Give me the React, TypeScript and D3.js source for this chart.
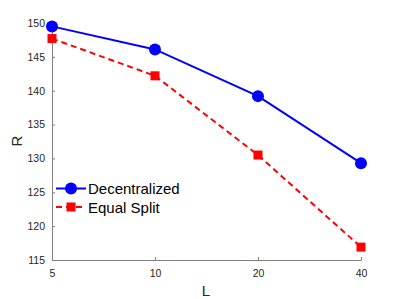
import React, { useEffect, useRef } from "react";
import * as d3 from "d3";

const lValues = [5, 10, 20, 40];
const decentralized = [149.5, 146.1, 139.2, 129.3];
const equalSplit = [147.7, 142.2, 130.5, 116.9];
const yTicks = [115, 120, 125, 130, 135, 140, 145, 150];

const W = 399;
const H = 299;
const margin = { top: 23, right: 38, bottom: 39, left: 52 };

export default function App() {
  const ref = useRef<SVGSVGElement>(null);

  useEffect(() => {
    const svg = d3.select(ref.current);
    svg.selectAll("*").remove();
    const width = W - margin.left - margin.right;
    const height = H - margin.top - margin.bottom;
    const g = svg.append("g").attr("transform", "translate(" + margin.left + "," + margin.top + ")");

    const x = d3.scaleLog().base(2).domain([5, 40]).range([0, width]);
    const y = d3.scaleLinear().domain([115, 150]).range([height, 0]);

    const axisColor = "#262626";
    const font = "'Liberation Sans', Arial, sans-serif";

    const xAxis = g.append("g")
      .attr("transform", "translate(0," + height + ")")
      .call(d3.axisBottom(x).tickValues(lValues).tickFormat(d3.format("d")).tickSizeInner(-3).tickSizeOuter(0).tickPadding(10));
    const yAxis = g.append("g")
      .call(d3.axisLeft(y).tickValues(yTicks).tickSizeInner(-3).tickSizeOuter(0).tickPadding(7));

    [xAxis, yAxis].forEach(a => {
      a.select(".domain").attr("stroke", "#808080").attr("stroke-width", 1);
      a.selectAll(".tick line").attr("stroke", "#808080");
      a.selectAll(".tick text").attr("fill", axisColor).attr("font-family", font).attr("font-size", 10.5);
    });

    svg.append("text")
      .attr("x", 206)
      .attr("y", 296)
      .attr("text-anchor", "middle")
      .attr("font-family", font)
      .attr("font-size", 15)
      .attr("fill", axisColor)
      .text("L");
    svg.append("text")
      .attr("transform", "translate(22,141) rotate(-90)")
      .attr("text-anchor", "middle")
      .attr("font-family", font)
      .attr("font-size", 15)
      .attr("fill", axisColor)
      .text("R");

    const line = d3.line<number>()
      .x((d, i) => x(lValues[i]))
      .y(d => y(d));

    g.append("path")
      .attr("d", line(decentralized))
      .attr("fill", "none")
      .attr("stroke", "#0000ff")
      .attr("stroke-width", 2);
    g.selectAll(".dot")
      .data(decentralized)
      .enter().append("circle")
      .attr("cx", (d, i) => x(lValues[i]))
      .attr("cy", d => y(d))
      .attr("r", 6)
      .attr("fill", "#0000ff");

    g.append("path")
      .attr("d", line(equalSplit))
      .attr("fill", "none")
      .attr("stroke", "#ff0000")
      .attr("stroke-width", 2)
      .attr("stroke-dasharray", "6,4");
    g.selectAll(".sq")
      .data(equalSplit)
      .enter().append("rect")
      .attr("x", (d, i) => x(lValues[i]) - 4.5)
      .attr("y", d => y(d) - 4.5)
      .attr("width", 9)
      .attr("height", 9)
      .attr("fill", "#ff0000");

    // legend
    const leg = svg.append("g").attr("transform", "translate(56,188.5)");
    leg.append("line").attr("x1", 0).attr("x2", 30).attr("y1", 0).attr("y2", 0)
      .attr("stroke", "#0000ff").attr("stroke-width", 2);
    leg.append("circle").attr("cx", 15).attr("cy", 0).attr("r", 6).attr("fill", "#0000ff");
    leg.append("text").attr("x", 32).attr("y", 5.5).attr("font-family", font).attr("font-size", 15)
      .attr("fill", "#000").text("Decentralized");
    leg.append("line").attr("x1", 0).attr("x2", 30).attr("y1", 18.5).attr("y2", 18.5)
      .attr("stroke", "#ff0000").attr("stroke-width", 2).attr("stroke-dasharray", "6,4");
    leg.append("rect").attr("x", 10.5).attr("y", 14).attr("width", 9).attr("height", 9).attr("fill", "#ff0000");
    leg.append("text").attr("x", 32).attr("y", 24).attr("font-family", font).attr("font-size", 15)
      .attr("fill", "#000").text("Equal Split");
  }, []);

  return (
    <svg ref={ref} width={W} height={H}
      style={{ position: "absolute", left: 0, top: 0, background: "#fff" }} />
  );
}
